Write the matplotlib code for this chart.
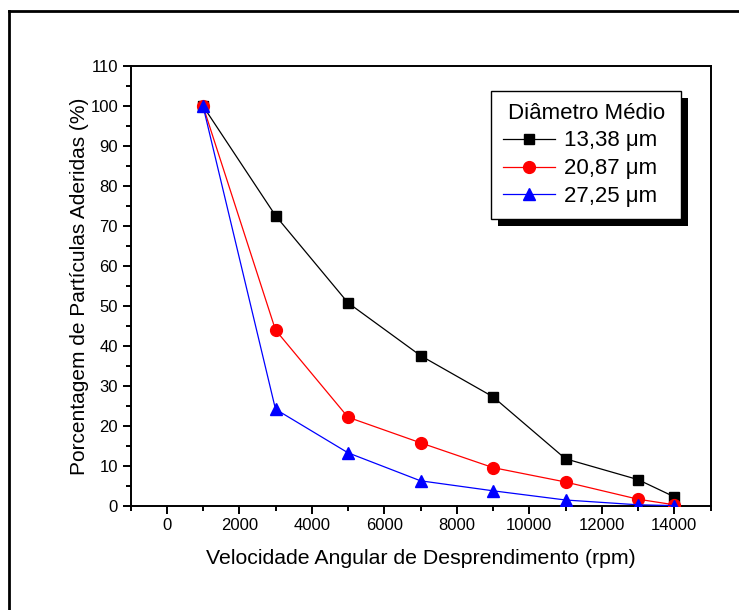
import matplotlib
matplotlib.use("Agg")
import matplotlib.pyplot as plt
from matplotlib.lines import Line2D
from matplotlib.patches import Rectangle
from matplotlib.ticker import MultipleLocator

plt.rcParams['font.family'] = ['Liberation Sans', 'DejaVu Sans']

# Rotation speed (rpm) and percentage of particles still adhered
rpm = [1000, 3000, 5000, 7000, 9000, 11000, 13000, 14000]
d_13_38 = [100, 72.6, 50.8, 37.6, 27.3, 11.8, 6.6, 2.3]
d_20_87 = [100, 44.0, 22.2, 15.8, 9.6, 6.0, 1.7, 0.3]
d_27_25 = [100, 24.2, 13.3, 6.3, 3.8, 1.5, 0.3, 0.1]

legend_title = "Diâmetro Médio"
labels = ["13,38 μm", "20,87 μm", "27,25 μm"]

W, H = 739, 610
fig = plt.figure(figsize=(W / 100, H / 100), dpi=100)

# Outer frame (top and left edges)
fig.add_artist(Line2D([8.5 / W, 8.5 / W], [0, 1 - 11 / H], transform=fig.transFigure,
                      color='black', lw=2))
fig.add_artist(Line2D([8.5 / W, 1], [1 - 11 / H, 1 - 11 / H], transform=fig.transFigure,
                      color='black', lw=2))

ax = fig.add_axes([130.5 / W, 1 - 506 / H, 580 / W, 440 / H])

ax.plot(rpm, d_13_38, color='black', lw=0.9, marker='s', ms=7.5,
        mfc='black', mec='black', label=labels[0], zorder=3)
ax.plot(rpm, d_20_87, color='red', lw=0.9, marker='o', ms=8.5,
        mfc='red', mec='red', label=labels[1], zorder=4)
ax.plot(rpm, d_27_25, color='blue', lw=0.9, marker='^', ms=8.5,
        mfc='blue', mec='blue', label=labels[2], zorder=5)

ax.set_xlim(-1000, 15000)
ax.set_ylim(0, 110)
ax.set_xticks(range(0, 14001, 2000))
ax.xaxis.set_minor_locator(MultipleLocator(1000))
ax.yaxis.set_major_locator(MultipleLocator(10))
ax.yaxis.set_minor_locator(MultipleLocator(5))

for s in ax.spines.values():
    s.set_linewidth(1.4)
ax.tick_params(which='major', direction='out', length=6, width=1.4, labelsize=12,
               pad=3)
ax.tick_params(which='minor', direction='out', length=3.5, width=1.4)
ax.tick_params(top=False, right=False, which='both')

ax.set_xlabel("Velocidade Angular de Desprendimento (rpm)", fontsize=15.3, labelpad=11.5)
ax.set_ylabel("Porcentagem de Partículas Aderidas (%)", fontsize=15, labelpad=1)

# trailing spaces widen the legend box on the right
leg = ax.legend([l + "  " for l in labels], title=legend_title, loc='upper right',
                bbox_to_anchor=(681 / W, 1 - 91 / H), bbox_transform=fig.transFigure,
                fontsize=16, title_fontsize=16, frameon=True, fancybox=False,
                edgecolor='black', framealpha=1, handlelength=2.35, handletextpad=0.4,
                labelspacing=0.31, borderpad=0.52, borderaxespad=0)
leg.get_frame().set_linewidth(1.0)
leg.set_zorder(10)

# Solid black drop shadow behind the legend box
fig.canvas.draw()
bb = leg.get_frame().get_window_extent()
shadow = Rectangle((bb.x0 + 7, bb.y0 - 7), bb.width, bb.height, transform=None,
                   facecolor='black', edgecolor='none', zorder=9)
ax.add_artist(shadow)

fig.savefig("out.png", dpi=100)
